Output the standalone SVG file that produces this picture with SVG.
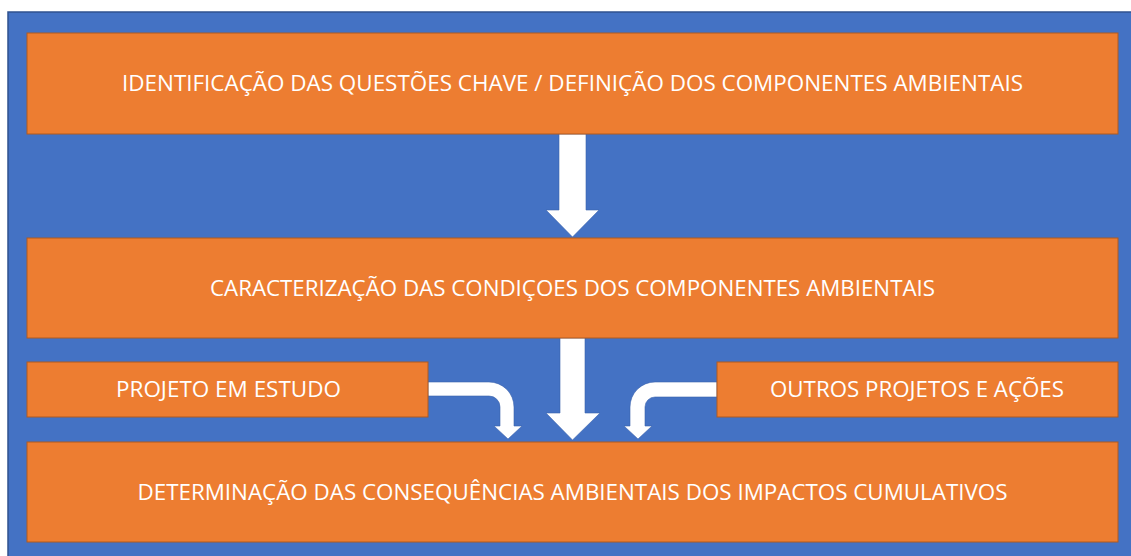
<svg xmlns="http://www.w3.org/2000/svg" width="1131" height="556" viewBox="0 0 1131 556">
<style>
.bg{fill:#4472C4;stroke:#2F528F;stroke-width:1.5}
.box{fill:#ED7D31;stroke:#AE5A21;stroke-width:1}
.lbl{font-family:"Open Sans","Liberation Sans",sans-serif;font-size:21px;fill:#FFFFFF;text-anchor:middle}
.arr{fill:#FFFFFF;stroke:#3A63AD;stroke-width:0.6}
</style>
<rect x="0" y="0" width="1131" height="556" fill="#FFFFFF"/>
<rect class="bg" x="8" y="12" width="1130" height="550"/>
<g id="connectors">
<polygon class="arr" points="559,134 586,134 586,210 599,210 572.5,237 546,210 559,210"/>
<polygon class="arr" points="560,338 585,338 585,413 600,413 572.5,440 546,413 560,413"/>
<path class="arr" d="M428,382 H489 A25,25 0 0 1 514,407 V426 H522 L508,439 L494,426 H500 V407 A11,11 0 0 0 489,396 H428 Z"/>
<path class="arr" d="M717,382 H655 A25,25 0 0 0 630,407 V426 H624 L638,439 L652,426 H645 V407 A10,10 0 0 1 655,397 H717 Z"/>
</g>
<g id="n1">
<rect class="box" x="27" y="33" width="1091" height="101"/>
<text class="lbl" x="572.5" y="91" textLength="901" lengthAdjust="spacingAndGlyphs">IDENTIFICAÇÃO DAS QUESTÕES CHAVE / DEFINIÇÃO DOS COMPONENTES AMBIENTAIS</text>
</g>
<g id="n2">
<rect class="box" x="27" y="238" width="1091" height="100"/>
<text class="lbl" x="572.5" y="296" textLength="725" lengthAdjust="spacingAndGlyphs">CARACTERIZAÇÃO DAS CONDIÇOES DOS COMPONENTES AMBIENTAIS</text>
</g>
<g id="n3">
<rect class="box" x="27" y="362" width="401" height="55"/>
<text class="lbl" x="228.5" y="397" textLength="225" lengthAdjust="spacingAndGlyphs">PROJETO EM ESTUDO</text>
</g>
<g id="n4">
<rect class="box" x="717" y="362" width="401" height="55"/>
<text class="lbl" x="917" y="397" textLength="294" lengthAdjust="spacingAndGlyphs">OUTROS PROJETOS E AÇÕES</text>
</g>
<g id="n5">
<rect class="box" x="27" y="442" width="1091" height="100"/>
<text class="lbl" x="572.5" y="500" textLength="870" lengthAdjust="spacingAndGlyphs">DETERMINAÇÃO DAS CONSEQUÊNCIAS AMBIENTAIS DOS IMPACTOS CUMULATIVOS</text>
</g>
</svg>
